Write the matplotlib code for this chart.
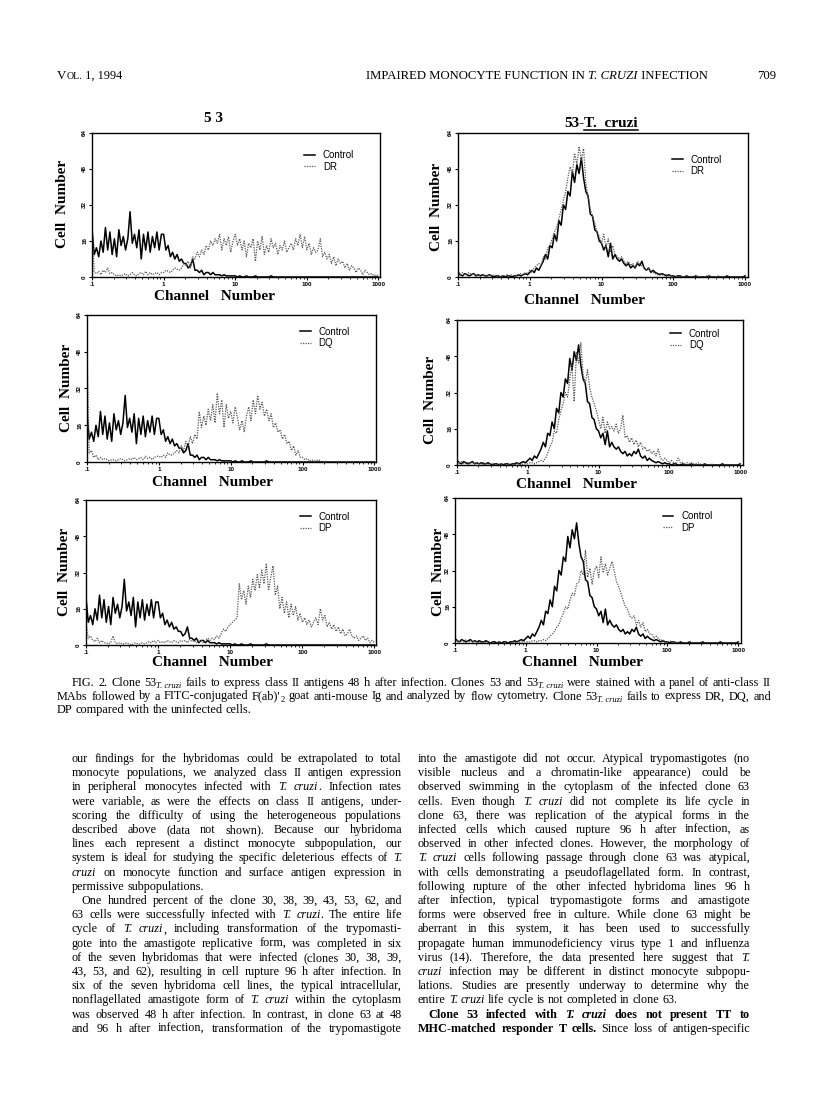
import re
import matplotlib
matplotlib.use('Agg')
import numpy as np
import matplotlib.pyplot as plt
from matplotlib.lines import Line2D
from matplotlib.ticker import FixedLocator, FixedFormatter, NullFormatter, LogLocator

W, H = 816, 1109
SERIF = 'Liberation Serif'
SANS = 'Liberation Sans'

# log-amplifier channels, 32 per decade from 0.1 to 1000
channel = np.arange(129)
intensity = 0.1 * 10 ** (channel / 32)

# clone 53 (uninfected) control
ctrl_53 = [21, 10, 13, 9, 16, 11, 22, 12, 20, 10, 17, 9, 21, 14, 18, 12, 17, 29, 15, 19, 13, 21, 8, 19, 12, 20, 11, 18, 13, 20, 12, 19,
           19, 12, 14, 9, 11, 8, 10, 7, 8, 6, 6, 4, 5, 8, 3, 3, 2, 3, 1, 2, 2, 1, 2, 1, 1, 1, 0.5, 1, 0.5, 0.5, 0.5, 0.5,
           0.5, 0, 0.5, 0, 0, 0.5, 0, 0, 0, 0.5, 0, 0, 0, 0, 0, 0, 0.5, 0, 0, 0, 0, 0, 0, 0, 0, 0, 0, 0, 0, 0, 0, 0,
           0, 0, 0, 0, 0, 0, 0, 0, 0, 0, 0, 0, 0, 0, 0, 0, 0, 0, 0, 0, 0, 0, 0, 0, 0, 0, 0, 0, 0, 0, 0, 0, 0]
dr_53 = [24, 2, 1.5, 2.5, 1, 3, 2, 4, 1.5, 2, 1, 0.5, 1, 0.5, 1, 1.5, 0.5, 1, 2, 1, 0.5, 1.5, 2, 1, 2.5, 1, 2, 1, 1.5, 2, 1, 2,
         2, 3, 2.5, 2, 3, 4, 3.5, 3, 4, 6, 5, 7, 4, 9, 8, 11, 9, 12, 10, 14, 12, 16, 14, 17, 15, 19, 12, 17, 14, 18, 11, 16,
         19, 14, 17, 12, 16, 9, 15, 13, 17, 7, 16, 12, 18, 10, 14, 11, 17, 13, 15, 10, 14, 12, 16, 11, 13, 15, 12, 17, 14, 19, 13, 18,
         12, 15, 10, 13, 11, 12, 17, 9, 11, 8, 10, 6, 9, 5, 8, 6, 7, 4, 6, 3, 5, 4, 2, 4, 3, 1, 3, 2, 1, 1.5, 0.5, 1, 0.5]
dq_53 = [48, 4, 5, 2, 3, 1, 2, 1, 1.5, 1, 0.5, 1, 1, 0.5, 1, 1.5, 1, 0.5, 1, 1.5, 1, 2, 1, 1.5, 2, 1, 2.5, 1.5, 2, 1, 2, 2.5,
         2.5, 2, 3, 2, 4, 3, 3, 4, 5, 4, 7, 5, 9, 7, 11, 8, 12, 10, 22, 15, 20, 16, 23, 18, 25, 17, 30, 21, 27, 15, 25, 19,
         22, 17, 24, 19, 14, 18, 13, 20, 24, 18, 27, 21, 29, 23, 26, 20, 23, 18, 21, 15, 17, 13, 14, 10, 12, 8, 9, 5, 7, 3, 5, 2,
         2, 1, 1.5, 0.5, 1, 0.5, 0.5, 1, 0.5, 0, 0.5, 0, 0, 0, 0, 0, 0, 0, 0, 0, 0, 0, 0, 0, 0, 0, 0, 0, 0, 0, 0, 0, 0]
dp_53 = [10, 3, 4, 2, 1.5, 3, 1, 2, 1, 1, 0.5, 1, 4, 1, 0.5, 1, 0.5, 0.5, 1, 0.5, 0, 0.5, 1, 0.5, 0.5, 1, 0.5, 1, 1.5, 1, 2, 1,
         2, 1, 1.5, 1, 2, 1.5, 1, 2, 1.5, 1, 2, 1.5, 2, 1, 2.5, 1.5, 2, 1, 1.5, 2, 1, 2, 3, 2, 3, 2.5, 4, 3, 5, 7, 6, 8,
         9, 10, 11, 12, 27, 20, 24, 18, 26, 21, 29, 24, 31, 25, 33, 27, 36, 24, 30, 35, 22, 26, 16, 21, 14, 19, 12, 18, 13, 17, 11, 14,
         10, 12, 9, 11, 8, 10, 12, 9, 16, 11, 13, 8, 10, 7, 9, 6, 8, 5, 7, 4, 5, 7, 4, 3, 4, 2, 3, 4, 2, 3, 1, 2, 1]

# clone 53 infected with T. cruzi, right column
ctrl_53tc = [2, 1, 0.5, 1.5, 1, 0.5, 1, 1.5, 0.5, 1, 0.5, 1, 0.5, 0.5, 1, 0.5, 0, 0.5, 0.5, 0, 0.5, 0, 0.5, 0.5, 0, 0.5, 0.5, 1, 0.5, 1, 1.5, 1,
             2, 3, 2, 4, 3, 5, 7, 10, 8, 14, 13, 19, 16, 25, 23, 32, 30, 38, 36, 47, 42, 50, 46, 53, 44, 38, 36, 28, 27, 21, 20, 16,
             15, 12, 14, 9, 15, 8, 10, 8, 7, 8, 6, 5, 6, 4, 5, 4, 6, 5, 7, 4, 3, 4, 2, 3, 2, 1.5, 1, 1.5, 1, 0.5, 1, 0.5,
             0.5, 0, 0.5, 0.5, 0, 0, 0.5, 0, 0, 0, 0.5, 0, 0, 0, 0, 0, 0.5, 0, 0, 0, 0, 0, 0, 0, 0.5, 0, 0, 0, 0, 0, 0, 0, 0.5]
dr_53tc = [3, 1, 2, 1, 1.5, 2, 1, 1.5, 1, 0.5, 1, 1, 0.5, 1, 0.5, 0.5, 1, 0.5, 0.5, 0, 0.5, 0.5, 1, 0.5, 1, 0.5, 0.5, 1, 1.5, 1, 2, 1.5,
           3, 2, 4, 5, 6, 5, 9, 8, 13, 14, 17, 20, 22, 26, 30, 34, 38, 44, 49, 46, 55, 50, 58, 52, 57, 42, 36, 30, 27, 24, 20, 18,
           15, 19, 13, 17, 11, 14, 10, 9, 8, 9, 7, 6, 7, 5, 6, 4, 7, 6, 5, 4, 3, 4, 2, 2, 1.5, 1, 1.5, 1, 0.5, 1, 0.5, 0.5,
           0.5, 0.5, 0, 0.5, 0, 0.5, 0, 0, 0.5, 0, 0, 0.5, 0, 0, 0, 0.5, 0, 0, 0, 0, 0.5, 0, 0, 0, 0, 0, 0, 0, 0, 0, 0, 0, 0]
dq_53tc = [2, 1, 1.5, 0.5, 1, 1, 0.5, 1, 0.5, 1, 0.5, 0.5, 1, 0.5, 0, 0.5, 0.5, 0.5, 0, 0.5, 0, 0.5, 0.5, 0, 0.5, 0.5, 0, 0.5, 0.5, 0, 0.5, 0.5,
           0.5, 1, 1, 0.5, 1, 1.5, 2, 1.5, 3, 5, 8, 10, 15, 14, 20, 24, 27, 32, 30, 38, 44, 28, 50, 45, 54, 40, 36, 42, 34, 30, 27, 24,
           20, 16, 21, 14, 19, 16, 17, 15, 18, 14, 16, 22, 12, 13, 10, 12, 9, 11, 8, 10, 7, 8, 6, 7, 5, 6, 4, 7, 3, 2, 3, 2,
           1, 2, 1, 1, 3, 1, 1, 0.5, 1, 0.5, 1, 0.5, 0.5, 1, 0.5, 0, 0.5, 0, 0, 0.5, 0, 0, 0, 0, 0, 0, 0, 0, 0, 0, 0, 0, 0]
dp_53tc = [2, 1, 0.5, 1, 0.5, 1.5, 0.5, 0.5, 1, 0.5, 0.5, 0, 0.5, 0.5, 0, 0.5, 0, 0.5, 0, 0, 0.5, 0, 0, 0.5, 0, 0, 0.5, 0, 0.5, 0, 0.5, 0.5,
           0.5, 0.5, 0.5, 1, 1, 0.5, 1, 1, 1.5, 1, 2, 3, 4, 5, 7, 8, 11, 13, 16, 15, 19, 22, 21, 26, 27, 32, 30, 41, 29, 33, 26, 32,
           34, 29, 38, 31, 35, 30, 33, 36, 32, 27, 25, 22, 19, 16, 15, 12, 11, 12, 8, 10, 7, 9, 5, 6, 4, 4, 2, 3, 2, 1, 1.5, 0.5,
           0.5, 1, 0.5, 0, 0.5, 0, 0, 0, 0, 0, 0, 0, 0, 0, 0, 0, 0, 0, 0, 0, 0, 0, 0, 0, 0, 0, 0, 0, 0, 0, 0, 0, 0]

x_ticks = [0.1, 1, 10, 100, 1000]
x_ticklabels = ['.1', '1', '10', '100', '1000']
y_ticks = [0, 16, 32, 48, 64]

# (left, top, right, bottom) px, stain, control, stain name, legend anchor, xlabel xy, ylabel xy, right xlim
panels = [
    ((92, 133, 380, 277), dr_53, ctrl_53, 'DR', (0.91, 0.88), (214, 297), (63, 204), 1050),
    ((458, 133, 748, 277), dr_53tc, ctrl_53tc, 'DR', (0.91, 0.85), (585, 300), (436, 207), 1100),
    ((87, 315, 376, 462), dq_53, ctrl_53, 'DQ', (0.91, 0.92), (212, 482), (67, 388), 1050),
    ((457, 320, 743, 465), dq_53tc, ctrl_53tc, 'DQ', (0.92, 0.94), (577, 485), (431, 400), 1100),
    ((86, 500, 376, 645), dp_53, ctrl_53, 'DP', (0.91, 0.92), (213, 663), (65, 572), 1050),
    ((455, 498, 741, 643), dp_53tc, ctrl_53tc, 'DP', (0.90, 0.91), (583, 662), (438, 572), 1100),
]

left_text = [
    ("our findings for the hybridomas could be extrapolated to total", 0, True),
    ("monocyte populations, we analyzed class II antigen expression", 0, True),
    ("in peripheral monocytes infected with _T._ _cruzi_. Infection rates", 0, True),
    ("were variable, as were the effects on class II antigens, under-", 0, True),
    ("scoring the difficulty of using the heterogeneous populations", 0, True),
    ("described above (data not shown). Because our hybridoma", 0, True),
    ("lines each represent a distinct monocyte subpopulation, our", 0, True),
    ("system is ideal for studying the specific deleterious effects of _T._", 0, True),
    ("_cruzi_ on monocyte function and surface antigen expression in", 0, True),
    ("permissive subpopulations.", 0, False),
    ("One hundred percent of the clone 30, 38, 39, 43, 53, 62, and", 10, True),
    ("63 cells were successfully infected with _T._ _cruzi_. The entire life", 0, True),
    ("cycle of _T._ _cruzi_, including transformation of the trypomasti-", 0, True),
    ("gote into the amastigote replicative form, was completed in six", 0, True),
    ("of the seven hybridomas that were infected (clones 30, 38, 39,", 0, True),
    ("43, 53, and 62), resulting in cell rupture 96 h after infection. In", 0, True),
    ("six of the seven hybridoma cell lines, the typical intracellular,", 0, True),
    ("nonflagellated amastigote form of _T._ _cruzi_ within the cytoplasm", 0, True),
    ("was observed 48 h after infection. In contrast, in clone 63 at 48", 0, True),
    ("and 96 h after infection, transformation of the trypomastigote", 0, True),
]
right_text = [
    ("into the amastigote did not occur. Atypical trypomastigotes (no", 0, True),
    ("visible nucleus and a chromatin-like appearance) could be", 0, True),
    ("observed swimming in the cytoplasm of the infected clone 63", 0, True),
    ("cells. Even though _T._ _cruzi_ did not complete its life cycle in", 0, True),
    ("clone 63, there was replication of the atypical forms in the", 0, True),
    ("infected cells which caused rupture 96 h after infection, as", 0, True),
    ("observed in other infected clones. However, the morphology of", 0, True),
    ("_T._ _cruzi_ cells following passage through clone 63 was atypical,", 0, True),
    ("with cells demonstrating a pseudoflagellated form. In contrast,", 0, True),
    ("following rupture of the other infected hybridoma lines 96 h", 0, True),
    ("after infection, typical trypomastigote forms and amastigote", 0, True),
    ("forms were observed free in culture. While clone 63 might be", 0, True),
    ("aberrant in this system, it has been used to successfully", 0, True),
    ("propagate human immunodeficiency virus type 1 and influenza", 0, True),
    ("virus (14). Therefore, the data presented here suggest that _T._", 0, True),
    ("_cruzi_ infection may be different in distinct monocyte subpopu-", 0, True),
    ("lations. Studies are presently underway to determine why the", 0, True),
    ("entire _T._ _cruzi_ life cycle is not completed in clone 63.", 0, False),
    ("*Clone* *53* *infected* *with* ^T.^ ^cruzi^ *does* *not* *present* *TT* *to*", 10, True),
    ("*MHC-matched* *responder* *T* *cells.* Since loss of antigen-specific", 0, True),
]
caption = [
    ("FIG. 2. Clone 53~T.+cruzi~ fails to express class II antigens 48 h after infection. Clones 53 and 53~T.+cruzi~ were stained with a panel of anti-class II", 72, True),
    ("MAbs followed by a FITC-conjugated F(ab)'{2} goat anti-mouse Ig and analyzed by flow cytometry. Clone 53~T.+cruzi~ fails to express DR, DQ, and", 57, True),
    ("DP compared with the uninfected cells.", 57, False),
]

plt.rcParams['font.family'] = SERIF
fig = plt.figure(figsize=(W / 100, H / 100), dpi=100)
renderer = fig.canvas.get_renderer()


def fx(px):
    return px / W


def fy(py):
    return 1 - py / H


def put_runs(runs, x, y):
    # runs: (text, size, style, weight, drop); returns the artists and the end x in px
    arts = []
    for txt, size, style, weight, drop in runs:
        t = fig.text(fx(x), fy(y + drop), txt, fontsize=size, style=style, weight=weight,
                     family=SERIF, ha='left', va='baseline')
        x += t.get_window_extent(renderer).width
        arts.append(t)
    return arts, x


def word_runs(word, size):
    runs = []
    for seg in re.findall(r'_[^_]+_|~[^~]+~|\{[^}]+\}|\*[^*]+\*|\^[^^]+\^|[^_~{}*^]+', word):
        if seg[0] == '_':
            runs.append((seg[1:-1], size, 'italic', 'normal', 0))
        elif seg[0] == '~':
            runs.append((seg[1:-1].replace('+', ' '), size * 0.7, 'italic', 'normal', 2.5))
        elif seg[0] == '{':
            runs.append((seg[1:-1], size * 0.7, 'normal', 'normal', 2.5))
        elif seg[0] == '*':
            runs.append((seg[1:-1], size, 'normal', 'bold', 0))
        elif seg[0] == '^':
            runs.append((seg[1:-1], size, 'italic', 'bold', 0))
        else:
            runs.append((seg, size, 'normal', 'normal', 0))
    return runs


def put_line(line, x0, x1, y, size, justify):
    placed = []
    for word in line.split():
        arts, end = put_runs(word_runs(word, size), 0, y)
        placed.append((arts, end))
    total = sum(end for _, end in placed)
    if justify and len(placed) > 1:
        gap = (x1 - x0 - total) / (len(placed) - 1)
    else:
        gap = size * 100 / 72 * 0.25
    x = x0
    for arts, end in placed:
        for t in arts:
            px = t.get_position()[0] * W
            t.set_x(fx(x + px))
        x += end + gap


# running head
put_runs([('V', 9.3, 'normal', 'normal', 0), ('OL.', 7.2, 'normal', 'normal', 0),
          (' 1, 1994', 8.8, 'normal', 'normal', 0)], 57, 79)
put_runs([('IMPAIRED MONOCYTE FUNCTION IN ', 9.2, 'normal', 'normal', 0),
          ('T. CRUZI', 9.2, 'italic', 'normal', 0),
          (' INFECTION', 9.2, 'normal', 'normal', 0)], 366, 79)
put_runs([('709', 9.2, 'normal', 'normal', 0)], 757, 79)

# column titles
fig.text(fx(213), fy(118), '5 3', fontsize=11, weight='bold', ha='center', va='center')
arts, end = put_runs([('53-', 11, 'normal', 'bold', 0), ('T.  cruzi', 11, 'normal', 'bold', 0)], 0, 127)
shift = 601 - end / 2
for t in arts:
    t.set_x(fx(t.get_position()[0] * W + shift))
u0 = arts[1].get_position()[0] * W
fig.add_artist(Line2D([fx(u0), fx(shift + end)], [fy(130), fy(130)], color='k', lw=1.1))

for (l, t, r, b), stain, ctrl, name, leg, xl, yl, xmax in panels:
    ax = fig.add_axes([fx(l), fy(b), (r - l) / W, (b - t) / H])
    h1, = ax.plot(intensity, ctrl, color='black', lw=1.1, label='Control')
    h2, = ax.plot(intensity, stain, color='0.35', lw=0.9, ls=(0, (1, 1)), label=name)
    ax.set_xscale('log')
    ax.set_xlim(0.1, xmax)
    ax.set_ylim(0, 64)
    ax.xaxis.set_major_locator(FixedLocator(x_ticks))
    ax.xaxis.set_major_formatter(FixedFormatter(x_ticklabels))
    ax.xaxis.set_minor_locator(LogLocator(base=10, subs=np.arange(2, 10)))
    ax.xaxis.set_minor_formatter(NullFormatter())
    ax.set_yticks(y_ticks)
    ax.set_yticklabels([str(v) for v in y_ticks])
    ax.tick_params(which='major', length=2.5, width=0.8, direction='out', pad=1, labelsize=4.5)
    ax.tick_params(which='minor', length=1.5, width=0.6, direction='out')
    ax.tick_params(axis='y', labelrotation=90)
    for lab in ax.get_xticklabels() + ax.get_yticklabels():
        lab.set_fontweight('bold')
        lab.set_family(SANS)
    for lab in ax.get_yticklabels():
        lab.set_va('center')
    for s in ax.spines.values():
        s.set_linewidth(1.0)
    ax.legend(handles=[h1, h2], loc='upper right', bbox_to_anchor=leg, frameon=False,
              prop={'family': SANS, 'size': 7}, handlelength=1.1, handletextpad=0.8,
              labelspacing=0.15, borderpad=0, borderaxespad=0)
    fig.text(fx(xl[0]), fy(xl[1]), 'Channel   Number', fontsize=11, weight='bold',
             ha='center', va='center')
    fig.text(fx(yl[0]), fy(yl[1]), 'Cell  Number', fontsize=11, weight='bold',
             ha='center', va='center', rotation=90)

# figure legend
for i, (line, x0, just) in enumerate(caption):
    put_line(line, x0, 771, 686 + i * 13.5, 8.8, just)

# body columns
for i, (line, ind, just) in enumerate(left_text):
    put_line(line, 72 + ind, 402, 762 + i * 14.2, 8.7, just)
for i, (line, ind, just) in enumerate(right_text):
    put_line(line, 418 + ind, 750, 762 + i * 14.2, 8.7, just)

fig.savefig('out.png', dpi=100, facecolor='white')
